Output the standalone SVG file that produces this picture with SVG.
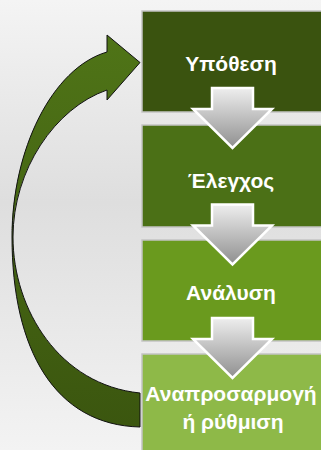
<svg xmlns="http://www.w3.org/2000/svg" xmlns:xlink="http://www.w3.org/1999/xlink" width="321" height="450" viewBox="0 0 321 450">
  <defs>
    <linearGradient id="bg" x1="0" y1="0" x2="0" y2="1">
      <stop offset="0" stop-color="#f4f4f4"/>
      <stop offset="0.45" stop-color="#dedede"/>
      <stop offset="1" stop-color="#f3f3f3"/>
    </linearGradient>
    <linearGradient id="down" x1="0" y1="0" x2="0" y2="1">
      <stop offset="0" stop-color="#eeeeee"/>
      <stop offset="1" stop-color="#8f8f8f"/>
    </linearGradient>
    <linearGradient id="curve" x1="0" y1="0" x2="0" y2="1">
      <stop offset="0" stop-color="#4f7417"/>
      <stop offset="1" stop-color="#3b560f"/>
    </linearGradient>
    <path id="darrow" d="M-20.5,0 H20.5 V21 H39.5 L0,60 L-39.5,21 H-20.5 Z"/>
    <style>
      .box { stroke: #c4c4c4; stroke-width: 1.5; }
      .lbl { font-family: "Liberation Sans", Arial, sans-serif; font-weight: bold; font-size: 21px; fill: #ffffff; text-anchor: middle; }
      .da { fill: url(#down); stroke: #ffffff; stroke-width: 2.5; stroke-linejoin: miter; }
    </style>
  </defs>

  <rect x="0" y="0" width="321" height="450" fill="url(#bg)"/>

  <g id="node-hypothesis">
    <rect class="box" x="142" y="11" width="190" height="101" fill="#3a530f"/>
    <text class="lbl" x="231" y="71">Υπόθεση</text>
  </g>
  <g id="node-test">
    <rect class="box" x="142" y="125" width="190" height="102" fill="#4b7016"/>
    <text class="lbl" x="231" y="188">Έλεγχος</text>
  </g>
  <g id="node-analysis">
    <rect class="box" x="142" y="240" width="190" height="101" fill="#6a9a1e"/>
    <text class="lbl" x="231" y="300">Ανάλυση</text>
  </g>
  <g id="node-adjust">
    <rect class="box" x="142" y="354" width="190" height="110" fill="#8eb948"/>
    <text class="lbl" x="231" y="401">Αναπροσαρμογή</text>
    <text class="lbl" x="233" y="429">ή ρύθμιση</text>
  </g>

  <g id="connectors">
    <use xlink:href="#darrow" class="da" transform="translate(232.5,88)"/>
    <use xlink:href="#darrow" class="da" transform="translate(232.5,204.5)"/>
    <use xlink:href="#darrow" class="da" transform="translate(232.5,318)"/>
    <path d="M140,393 C60,385 13,310 13,237 C13,170 55,108 107,90 L107,100 L140,62.5 L107,35 L107,52 C52,68 12,150 12,237 C12,350 55,425 140,427 Z" fill="url(#curve)" stroke="#111111" stroke-width="1" stroke-linejoin="miter"/>
  </g>
</svg>
